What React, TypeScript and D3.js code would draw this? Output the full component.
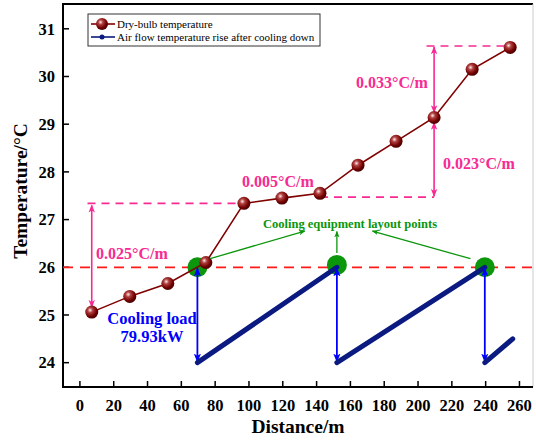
import React from "react";
import * as d3 from "d3";

// dry-bulb temperature along the tunnel
const distance = [7, 29.5, 52, 74.5, 97, 119.5, 142, 164.5, 187, 209.5, 232, 254.5];
const dryBulb = [25.06, 25.39, 25.66, 26.1, 27.34, 27.45, 27.55, 28.14, 28.64, 29.14, 30.15, 30.61];

// air flow temperature rise after cooling down (segment start/end)
const riseStartX = [69.5, 152, 239.5];
const riseEndX = [152, 239.5, 256];
const riseStartT = [24, 24, 24];
const riseEndT = [26, 26, 24.5];

// cooling equipment layout points
const coolerX = [69.5, 152, 239.5];
const coolerT = [26, 26.05, 26];

const xTicks = [0, 20, 40, 60, 80, 100, 120, 140, 160, 180, 200, 220, 240, 260];
const yTicks = [24, 25, 26, 27, 28, 29, 30, 31];
const designTemp = 26;

const rateLabels = ["0.025°C/m", "0.005°C/m", "0.023°C/m", "0.033°C/m"];

const W = 536;
const H = 443;
const font = "'Liberation Serif', 'Times New Roman', serif";

export default function App() {
  const x = d3.scaleLinear().domain([-10, 268]).range([63, 533]);
  const y = d3.scaleLinear().domain([23.49, 31.52]).range([387, 4]);

  const pts = distance.map((d, i) => [x(d), y(dryBulb[i])] as [number, number]);
  const line = d3.line();

  const pink = "#f72a93";
  const green = "#0c960c";

  // pink reference levels
  const lowLevel = dryBulb[4];
  const midLevel = 27.47;
  const topLevel = 30.64;

  return (
    <svg width={W} height={H} style={{ position: "absolute", left: 0, top: 0, background: "#fff" }} fontFamily={font}>
      <defs>
        <radialGradient id="ball" cx="38%" cy="35%" r="65%">
          <stop offset="0%" stopColor="#ffe8e8" />
          <stop offset="30%" stopColor="#b04040" />
          <stop offset="75%" stopColor="#700000" />
          <stop offset="100%" stopColor="#4a0000" />
        </radialGradient>
        {[["pk", pink], ["bl", "#0000ff"], ["gr", green]].map(([id, c]) => (
          <marker key={id} id={id} viewBox="0 0 10 10" refX="9" refY="5" markerWidth="5" markerHeight="5" orient="auto-start-reverse" markerUnits="strokeWidth">
            <path d="M0,1 L10,5 L0,9 L2.5,5 Z" fill={c} />
          </marker>
        ))}
      </defs>

      {/* frame */}
      <line x1={x(-10)} x2={x(268)} y1={y(31.52)} y2={y(31.52)} stroke="#000" strokeWidth={2} />
      <line x1={x(268)} x2={x(268)} y1={y(31.52)} y2={y(23.49)} stroke="#ccc" strokeWidth={1} />
      <line x1={x(-10)} x2={x(-10)} y1={y(31.52) - 1} y2={y(23.49) + 1} stroke="#000" strokeWidth={2} />
      <line x1={x(-10)} x2={x(268)} y1={y(23.49)} y2={y(23.49)} stroke="#000" strokeWidth={2} />

      {yTicks.map((t) => (
        <g key={t}>
          <line x1={x(-10)} x2={x(-10) + 6} y1={y(t)} y2={y(t)} stroke="#000" strokeWidth={1.5} />
          <text x={x(-10) - 8} y={y(t)} dy="0.35em" textAnchor="end" fontSize={16.5} fontWeight="bold">{t}</text>
        </g>
      ))}
      {xTicks.map((t) => (
        <g key={t}>
          <line x1={x(t)} x2={x(t)} y1={y(23.49)} y2={y(23.49) - 6} stroke="#000" strokeWidth={1.5} />
          <text x={x(t)} y={411} textAnchor="middle" fontSize={16.5} fontWeight="bold">{t}</text>
        </g>
      ))}
      <text x={298} y={433} textAnchor="middle" fontSize={19.5} fontWeight="bold">Distance/m</text>
      <text transform={`translate(27,${y(27.6)}) rotate(-90)`} textAnchor="middle" fontSize={19.5} fontWeight="bold">Temperature/°C</text>

      {/* design temperature */}
      <line x1={x(-10)} x2={x(268)} y1={y(designTemp)} y2={y(designTemp)} stroke="#ff1a1a" strokeWidth={1.7} strokeDasharray="10 7" />

      {/* pink gradient annotations */}
      <g stroke={pink} strokeWidth={1.6} fill="none">
        <line x1={x(4.5)} x2={x(97)} y1={y(lowLevel)} y2={y(lowLevel)} strokeDasharray="8 6" />
        <line x1={x(7)} x2={x(7)} y1={y(lowLevel) + 2} y2={y(dryBulb[0]) - 5} markerStart="url(#pk)" markerEnd="url(#pk)" />
        <line x1={x(142)} x2={x(209.5)} y1={y(midLevel)} y2={y(midLevel)} strokeDasharray="8 6" />
        <line x1={x(209.5)} x2={x(209.5)} y1={y(midLevel) - 1} y2={y(dryBulb[9]) + 5} markerStart="url(#pk)" markerEnd="url(#pk)" />
        <line x1={x(205)} x2={x(254.5)} y1={y(topLevel)} y2={y(topLevel)} strokeDasharray="8 6" />
        <line x1={x(209.5)} x2={x(209.5)} y1={y(topLevel) + 1} y2={y(dryBulb[9]) - 5} markerStart="url(#pk)" markerEnd="url(#pk)" />
      </g>
      <g fill={pink} fontSize={16} fontWeight="bold">
        <text x={96} y={259}>{rateLabels[0]}</text>
        <text x={242} y={187}>{rateLabels[1]}</text>
        <text x={443} y={169}>{rateLabels[2]}</text>
        <text x={356} y={88}>{rateLabels[3]}</text>
      </g>

      {/* cooling layout points */}
      {coolerX.map((c, i) => (
        <circle key={i} cx={x(c)} cy={y(coolerT[i])} r={10} fill={green} />
      ))}

      {/* dry-bulb line */}
      <path d={line(pts) || ""} fill="none" stroke="#800000" strokeWidth={1.6} />
      {pts.map(([px, py], i) => (
        <circle key={i} cx={px} cy={py} r={6.5} fill="url(#ball)" />
      ))}

      {/* air flow temperature rise */}
      {riseStartX.map((s, i) => (
        <g key={i}>
          <line x1={x(s)} x2={x(s)} y1={y(26) + 1} y2={y(24) - 1} stroke="#0000ff" strokeWidth={1.8} markerStart="url(#bl)" markerEnd="url(#bl)" />
          <line x1={x(s)} x2={x(riseEndX[i])} y1={y(riseStartT[i])} y2={y(riseEndT[i])} stroke="#0a1a80" strokeWidth={5} strokeLinecap="round" />
        </g>
      ))}

      {/* green callouts */}
      <g stroke={green} strokeWidth={1.3}>
        <line x1={x(77)} y1={y(26.18)} x2={x(133)} y2={y(26.76)} markerEnd="url(#gr)" />
        <line x1={x(152)} y1={y(26.3)} x2={x(152)} y2={y(26.75)} markerEnd="url(#gr)" />
        <line x1={x(231)} y1={y(26.18)} x2={x(173)} y2={y(26.76)} markerEnd="url(#gr)" />
      </g>
      <text x={350} y={228} textAnchor="middle" fill={green} fontSize={12.5} fontWeight="bold">Cooling equipment layout points</text>

      <text x={152} y={324} textAnchor="middle" fill="#0000ff" fontSize={16.5} fontWeight="bold">Cooling load</text>
      <text x={152} y={342} textAnchor="middle" fill="#0000ff" fontSize={16.5} fontWeight="bold">79.93kW</text>

      {/* legend */}
      <g>
        <rect x={88} y={14} width={232} height={32} fill="#fff" stroke="#333" strokeWidth={1} />
        <line x1={91} x2={115} y1={24} y2={24} stroke="#800000" strokeWidth={1.6} />
        <circle cx={102} cy={24} r={6} fill="url(#ball)" />
        <text x={117} y={28} fontSize={11}>Dry-bulb temperature</text>
        <line x1={91} x2={115} y1={37} y2={37} stroke="#0a1a80" strokeWidth={1.6} />
        <circle cx={102} cy={37} r={2.5} fill="#0a1a80" />
        <text x={117} y={41} fontSize={11}>Air flow temperature rise after cooling down</text>
      </g>
    </svg>
  );
}
